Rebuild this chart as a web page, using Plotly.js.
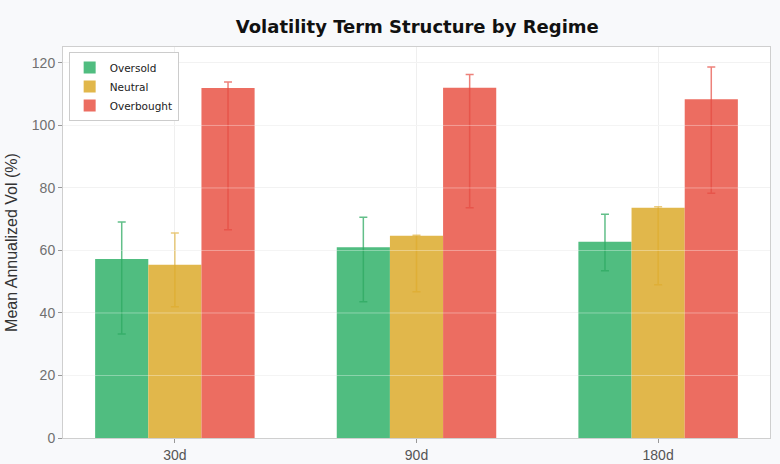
<!DOCTYPE html>
<html>
<head>
<meta charset="utf-8">
<script src="https://cdn.plot.ly/plotly-3.0.1.min.js"></script>
<style>html,body{margin:0;padding:0;background:#f8f9fb;}#chart{width:780px;height:464px;}</style>
</head>
<body>
<div id="chart"></div>
<script>
var categories = ["30d", "90d", "180d"];
var regimes = ["Oversold", "Neutral", "Overbought"];
var oversoldMean = [57.3, 61.0, 62.8];
var oversoldErrPlus = [11.8, 9.6, 8.8];
var oversoldErrMinus = [24.0, 17.4, 9.3];
var neutralMean = [55.4, 64.7, 73.7];
var neutralErrPlus = [10.2, 0.2, 0.3];
var neutralErrMinus = [13.4, 17.9, 24.7];
var overboughtMean = [112.0, 112.1, 108.4];
var overboughtErrPlus = [1.9, 4.2, 10.3];
var overboughtErrMinus = [45.4, 38.4, 30.1];
var yTicks = [0, 20, 40, 60, 80, 100, 120];

var barColors = ["#50bd80", "#e1b74b", "#ec6d61"];
var errColors = ["rgba(46,170,98,0.75)", "rgba(222,170,40,0.6)", "rgba(230,76,66,0.7)"];

var means = [oversoldMean, neutralMean, overboughtMean];
var plus = [oversoldErrPlus, neutralErrPlus, overboughtErrPlus];
var minus = [oversoldErrMinus, neutralErrMinus, overboughtErrMinus];

var traces = regimes.map(function (name, i) {
  return {
    type: "bar",
    name: name,
    x: categories,
    y: means[i],
    marker: {color: barColors[i], line: {width: 0}},
    error_y: {
      type: "data",
      symmetric: false,
      array: plus[i],
      arrayminus: minus[i],
      color: errColors[i],
      thickness: 1.5,
      width: 4
    },
    hoverinfo: "x+y+name"
  };
});

var gridShapes = yTicks.filter(function (v) { return v > 0; }).map(function (v) {
  return {
    type: "line", xref: "paper", yref: "y", x0: 0, x1: 1, y0: v, y1: v,
    line: {color: "rgba(255,255,255,0.35)", width: 1}, layer: "above"
  };
});

var layout = {
  width: 780,
  height: 464,
  margin: {l: 63, r: 10, t: 47, b: 26},
  paper_bgcolor: "#f8f9fb",
  plot_bgcolor: "#ffffff",
  barmode: "group",
  bargap: 0.34,
  bargroupgap: 0,
  showlegend: true,
  title: {
    text: "<b>Volatility Term Structure by Regime</b>",
    font: {family: "DejaVu Sans", size: 18, color: "#111111"},
    x: 0.535, xanchor: "center", y: 0.943, yanchor: "middle"
  },
  xaxis: {
    type: "category",
    range: [-0.463, 2.463],
    showgrid: true,
    gridcolor: "#efefef",
    gridwidth: 1,
    showline: true,
    linecolor: "#cfcfcf",
    linewidth: 1,
    mirror: true,
    ticks: "outside",
    ticklen: 4,
    tickcolor: "#999999",
    tickfont: {family: "Liberation Sans", size: 14, color: "#555555"},
    zeroline: false,
    fixedrange: true
  },
  yaxis: {
    range: [0, 125.1],
    tickvals: yTicks,
    showgrid: true,
    gridcolor: "#efefef",
    gridwidth: 1,
    showline: true,
    linecolor: "#cfcfcf",
    linewidth: 1,
    mirror: true,
    ticks: "outside",
    ticklen: 4,
    tickcolor: "#999999",
    tickfont: {family: "Liberation Sans", size: 14, color: "#707070"},
    zeroline: false,
    title: {text: "Mean Annualized Vol (%)", font: {family: "Liberation Sans", size: 16, color: "#333333"}, standoff: 10},
    fixedrange: true
  },
  legend: {
    x: 0.008, y: 0.987, xanchor: "left", yanchor: "top",
    bgcolor: "#ffffff",
    bordercolor: "#cccccc",
    borderwidth: 1,
    font: {family: "DejaVu Sans", size: 10.5, color: "#222222"},
    tracegroupgap: 0,
    itemwidth: 30
  },
  shapes: gridShapes
};

Plotly.newPlot("chart", traces, layout, {displayModeBar: false, staticPlot: true});
</script>
</body>
</html>
